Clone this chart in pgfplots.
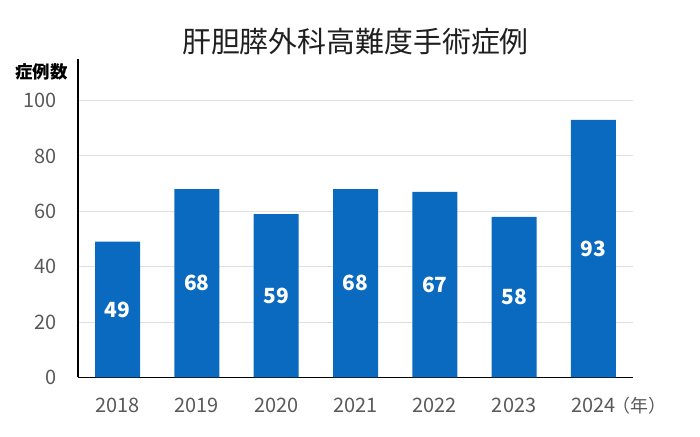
\documentclass[border=0pt]{standalone}
\usepackage{pgfplots}
\pgfplotsset{compat=1.18}
\usepackage{pgfplotstable}
\usepackage{fontspec}
\setmainfont{Noto Sans CJK JP}
\definecolor{barblue}{HTML}{0A6AC0}
\definecolor{ticktext}{HTML}{595959}
\definecolor{gridgray}{HTML}{E0E0E0}

\pgfplotstableread{
x y
0 49
1 68
2 59
3 68
4 67
5 58
6 93
}\cases

\begin{document}
\begin{tikzpicture}
\begin{axis}[
  scale only axis,
  width=555bp, height=318.4bp,
  xmin=-0.5, xmax=6.5,
  ymin=0, ymax=115,
  axis x line*=bottom,
  axis y line*=left,
  axis line style={black, line width=1.4pt},
  xtick=data,
  xticklabels={2018,2019,2020,2021,2022,2023,2024},
  ytick={0,20,40,60,80,100},
  major tick length=0pt,
  ymajorgrids,
  grid style={gridgray, line width=0.9pt},
  /pgf/number format/assume math mode=true,
  xticklabel style={font=\fontsize{20}{20}\selectfont, text=ticktext, anchor=base, yshift=-35bp},
  yticklabel style={font=\fontsize{20}{20}\selectfont, text=ticktext, anchor=east, inner sep=0pt, xshift=-21bp},
  clip=false,
]
\addplot[ybar, bar width=45bp, fill=barblue, draw=none] table[x=x, y=y] {\cases};
\addplot[only marks, mark=none, nodes near coords, point meta=\thisrow{y},
  every node near coord/.style={anchor=center, text=white, font=\fontsize{21}{21}\selectfont\bfseries}]
  table[x=x, y expr=\thisrow{y}/2] {\cases};
\node[font=\fontsize{18}{18}\selectfont, text=ticktext, anchor=base] at ([yshift=-35bp]axis cs:6.58,0) {（年）};
\node[font=\fontsize{17.5}{17.5}\selectfont\bfseries, anchor=center] at ([xshift=-36.5bp, yshift=-13bp]rel axis cs:0,1) {症例数};
\node[font=\fontsize{29}{29}\selectfont, text=black!88, anchor=center] at ([yshift=17.5bp]rel axis cs:0.5,1) {肝胆膵外科高難度手術症例};
\end{axis}
\path[use as bounding box] ([xshift=-78bp, yshift=-58.6bp]current axis.south west) rectangle ([xshift=67bp, yshift=59bp]current axis.north east);
\end{tikzpicture}
\end{document}
